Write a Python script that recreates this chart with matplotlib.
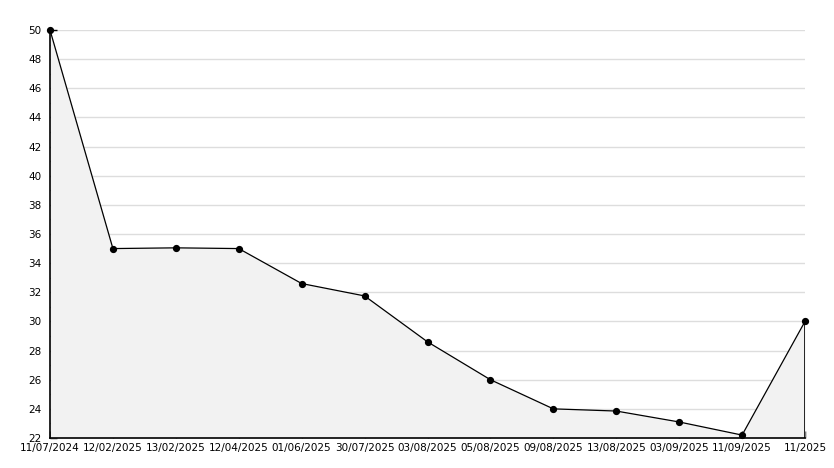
import matplotlib
matplotlib.use("Agg")
import matplotlib.pyplot as plt
from matplotlib.ticker import MultipleLocator
from matplotlib.transforms import ScaledTranslation

dates = ["11/07/2024", "12/02/2025", "13/02/2025", "12/04/2025", "01/06/2025",
         "30/07/2025", "03/08/2025", "05/08/2025", "09/08/2025", "13/08/2025",
         "03/09/2025", "11/09/2025", "11/2025"]
values = [50, 35, 35.05, 35, 32.6, 31.75, 28.6, 26, 24, 23.85, 23.1, 22.2, 30]

y_min, y_max = 22, 50

fig = plt.figure(figsize=(8.34, 4.68), dpi=100)
ax = fig.add_axes([50/834, 30/468, 755/834, 408/468])
x = list(range(len(values)))

ax.fill_between(x, values, y_min, color="#f2f2f2", zorder=1, linewidth=0)
ax.plot(x, values, color="black", linewidth=0.9, marker="o", markersize=4.2,
        zorder=5, clip_on=False)
ax.vlines(x[-1], y_min, values[-1], color="black", linewidth=1.2, zorder=3)

ax.set_xlim(x[0], x[-1])
ax.set_ylim(y_min, y_max)
ax.yaxis.set_major_locator(MultipleLocator(2))
ax.yaxis.set_minor_locator(MultipleLocator(1))
ax.set_xticks(x)
ax.set_xticklabels(dates)
ax.grid(axis="y", which="major", color="#dddddd", linewidth=1, zorder=0)
ax.set_axisbelow(True)

for s in ["top", "right"]:
    ax.spines[s].set_visible(False)
for s in ["left", "bottom"]:
    ax.spines[s].set_linewidth(1.2)
    ax.spines[s].set_zorder(4)

ax.tick_params(axis="y", which="major", direction="in", length=5, width=1, pad=6, labelsize=7.5)
ax.tick_params(axis="y", which="minor", direction="in", length=3, width=1)
ax.tick_params(axis="x", which="major", direction="in", length=5, width=1, pad=3.5, labelsize=7.5)

fig.canvas.draw()
lbl = ax.get_yticklabels()[0]
lbl.set_transform(lbl.get_transform() + ScaledTranslation(0, 3/100, fig.dpi_scale_trans))

fig.savefig("out.png", dpi=100, facecolor="white")
